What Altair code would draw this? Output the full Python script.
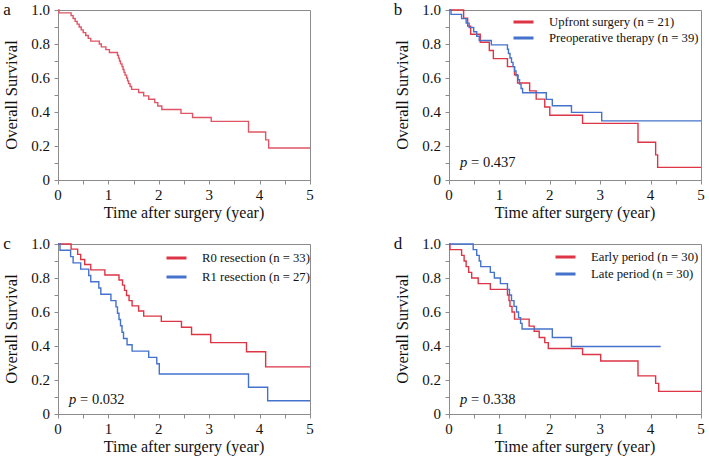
import altair as alt
import pandas as pd

FONT = "'Liberation Serif', 'Times New Roman', Times, serif"
RED = "#dd3545"
BLUE = "#4472cc"
GRAY = "#8c8c8c"
INK = "#111"

# ---- Kaplan-Meier step data (time in years, survival probability) ----
# a: all patients
a_time = [0, 0.02, 0.26, 0.30, 0.34, 0.38, 0.42, 0.46, 0.50, 0.55, 0.60, 0.65, 0.82, 0.86,
          0.95, 1.02, 1.18, 1.20, 1.22, 1.24, 1.27, 1.29, 1.31, 1.33, 1.36, 1.38, 1.40, 1.43,
          1.46, 1.60, 1.70, 1.80, 1.92, 1.98, 2.06, 2.44, 2.67, 3.04, 3.78, 4.12, 4.18, 5.00]
a_surv = [1.0, 0.983, 0.967, 0.950, 0.933, 0.917, 0.900, 0.883, 0.867, 0.850, 0.833, 0.817,
          0.800, 0.783, 0.767, 0.750, 0.733, 0.717, 0.700, 0.683, 0.667, 0.650, 0.633, 0.617,
          0.600, 0.583, 0.567, 0.550, 0.533, 0.515, 0.495, 0.475, 0.455, 0.435, 0.415, 0.392,
          0.368, 0.345, 0.282, 0.236, 0.188, 0.188]

# b: upfront surgery vs preoperative therapy
b_up_time = [0, 0.29, 0.37, 0.43, 0.62, 0.80, 0.88, 1.16, 1.30, 1.36, 1.60, 1.73, 1.90,
             2.00, 2.65, 3.75, 4.10, 4.14, 5.0]
b_up_surv = [1.0, 0.952, 0.905, 0.857, 0.810, 0.762, 0.714, 0.667, 0.619, 0.571, 0.524,
             0.476, 0.429, 0.381, 0.333, 0.222, 0.148, 0.074, 0.074]
b_pre_time = [0, 0.04, 0.25, 0.34, 0.40, 0.49, 0.55, 0.60, 0.84, 1.16, 1.18, 1.21, 1.24,
              1.27, 1.30, 1.33, 1.37, 1.40, 1.43, 1.46, 1.93, 2.05, 2.43, 3.03, 5.0]
b_pre_surv = [1.0, 0.974, 0.949, 0.923, 0.897, 0.872, 0.846, 0.821, 0.795, 0.769, 0.744,
              0.718, 0.692, 0.667, 0.641, 0.615, 0.590, 0.564, 0.538, 0.513, 0.474, 0.437,
              0.398, 0.348, 0.348]

# c: R0 vs R1 resection
c_r0_time = [0, 0.26, 0.39, 0.45, 0.53, 0.65, 0.93, 1.21, 1.28, 1.32, 1.36, 1.41, 1.47,
             1.60, 1.70, 2.05, 2.45, 2.65, 3.03, 3.74, 4.12, 5.0]
c_r0_surv = [1.0, 0.970, 0.939, 0.909, 0.879, 0.848, 0.818, 0.788, 0.758, 0.727, 0.697,
             0.667, 0.636, 0.606, 0.576, 0.545, 0.510, 0.468, 0.420, 0.366, 0.277, 0.277]
c_r1_time = [0, 0.04, 0.25, 0.30, 0.45, 0.61, 0.65, 0.81, 0.85, 1.05, 1.15, 1.18, 1.21,
             1.24, 1.27, 1.30, 1.37, 1.47, 1.80, 1.96, 2.01, 3.78, 4.16, 5.0]
c_r1_surv = [1.0, 0.963, 0.926, 0.889, 0.852, 0.815, 0.778, 0.741, 0.704, 0.667, 0.630,
             0.593, 0.556, 0.519, 0.481, 0.444, 0.407, 0.370, 0.333, 0.296, 0.235, 0.157,
             0.078, 0.078]

# d: early vs late period
d_early_time = [0, 0.02, 0.25, 0.30, 0.34, 0.39, 0.45, 0.58, 0.82, 1.16, 1.19, 1.21, 1.25,
                1.30, 1.59, 1.69, 1.79, 1.90, 1.97, 2.65, 3.01, 3.75, 4.10, 4.16, 5.0]
d_early_surv = [1.0, 0.967, 0.933, 0.900, 0.867, 0.833, 0.800, 0.767, 0.733, 0.700, 0.667,
                0.633, 0.600, 0.558, 0.517, 0.487, 0.450, 0.420, 0.385, 0.350, 0.312, 0.224,
                0.180, 0.133, 0.133]
d_late_time = [0, 0.48, 0.55, 0.60, 0.63, 0.82, 0.90, 1.02, 1.16, 1.20, 1.24, 1.29, 1.34,
               1.38, 1.42, 1.45, 2.05, 2.43, 4.20]
d_late_surv = [1.0, 0.967, 0.933, 0.900, 0.867, 0.833, 0.800, 0.767, 0.733, 0.700, 0.667,
               0.633, 0.600, 0.567, 0.533, 0.500, 0.450, 0.397, 0.397]

# ticks (every 0.5 year / 0.1 survival) and the labelled subset
x_ticks = [i * 0.5 for i in range(11)]
y_ticks = [round(i * 0.1, 1) for i in range(11)]
x_label_vals = [0, 1, 2, 3, 4, 5]
x_label_text = ["0", "1", "2", "3", "4", "5"]
y_label_vals = [0, 0.2, 0.4, 0.6, 0.8, 1.0]
y_label_text = ["0", "0.2", "0.4", "0.6", "0.8", "1.0"]

X_TITLE = "Time after surgery (year)"
Y_TITLE = "Overall Survival"

W, H = 252, 170

AXIS_STYLE = dict(domainColor=GRAY, tickColor=GRAY, tickSize=4, grid=False,
                  labels=False, title=None)


def panel(letter, series, p_value=None, p_y=0.09, legend_x=0, legend_y=0, row_pad=0):
    rows = []
    for label, times, surv, _ in series:
        for t, s in zip(times, surv):
            rows.append({"group": label, "time": t, "surv": s})
    df = pd.DataFrame(rows)
    labels = [s[0] for s in series]
    colors = [s[3] for s in series]

    if len(series) > 1:
        legend = alt.Legend(
            title=None, orient="none", legendX=legend_x, legendY=legend_y,
            symbolType="stroke", symbolStrokeWidth=3, symbolSize=400,
            labelFont=FONT, labelFontSize=12.7, labelColor=INK, labelOffset=14,
            labelLimit=300, padding=0, rowPadding=row_pad, clipHeight=16,
        )
    else:
        legend = None

    x = alt.X("time:Q", scale=alt.Scale(domain=[0, 5], nice=False),
              axis=alt.Axis(values=x_ticks, **AXIS_STYLE))
    y = alt.Y("surv:Q", scale=alt.Scale(domain=[0, 1], nice=False),
              axis=alt.Axis(values=y_ticks, **AXIS_STYLE))

    lines = alt.Chart(df).mark_line(interpolate="step-after", strokeWidth=1.4).encode(
        x=x, y=y,
        color=alt.Color("group:N", scale=alt.Scale(domain=labels, range=colors), legend=legend),
    )

    txt = dict(font=FONT, color=INK, baseline="middle")

    # tick labels, placed through the same scales
    xl = alt.Chart(pd.DataFrame({"time": x_label_vals, "surv": [0] * len(x_label_vals),
                                 "lab": x_label_text})).mark_text(
        fontSize=15, align="center", dy=15, **txt).encode(x=x, y=y, text="lab:N")
    yl = alt.Chart(pd.DataFrame({"time": [0] * len(y_label_vals), "surv": y_label_vals,
                                 "lab": y_label_text})).mark_text(
        fontSize=15, align="right", dx=-8, **txt).encode(x=x, y=y, text="lab:N")

    # axis titles and panel letter
    titles = pd.DataFrame({"xt": [X_TITLE], "yt": [Y_TITLE], "letter": [letter]})
    xt = alt.Chart(titles).mark_text(fontSize=16, align="center", **txt).encode(
        text="xt:N", x=alt.value(W / 2), y=alt.value(H + 33))
    yt = alt.Chart(titles).mark_text(fontSize=16.5, align="center", angle=270, **txt).encode(
        text="yt:N", x=alt.value(-46), y=alt.value(H / 2))
    tag = alt.Chart(titles).mark_text(fontSize=17, align="center", **txt).encode(
        text="letter:N", x=alt.value(-51), y=alt.value(0))

    layers = [lines, xl, yl, xt, yt, tag]
    if p_value is not None:
        ptab = pd.DataFrame({"time": [0.22], "surv": [p_y], "p": ["p"], "val": ["= " + p_value]})
        base = alt.Chart(ptab).encode(x=x, y=y)
        layers.append(base.mark_text(fontSize=14.5, fontStyle="italic", align="left",
                                     **txt).encode(text="p:N"))
        layers.append(base.mark_text(fontSize=14.5, dx=11, align="left",
                                     **txt).encode(text="val:N"))
    return alt.layer(*layers).properties(width=W, height=H)


pa = panel("a", [("All", a_time, a_surv, "#e05566")])
pb = panel("b", [("Upfront surgery (n = 21)", b_up_time, b_up_surv, RED),
                 ("Preoperative therapy (n = 39)", b_pre_time, b_pre_surv, BLUE)],
           p_value="0.437", p_y=0.10, legend_x=63, legend_y=4, row_pad=0)
pc = panel("c", [("R0 resection (n = 33)", c_r0_time, c_r0_surv, RED),
                 ("R1 resection (n = 27)", c_r1_time, c_r1_surv, BLUE)],
           p_value="0.032", p_y=0.085, legend_x=107, legend_y=6, row_pad=3)
pd_ = panel("d", [("Early period (n = 30)", d_early_time, d_early_surv, RED),
                  ("Late period (n = 30)", d_late_time, d_late_surv, BLUE)],
            p_value="0.338", p_y=0.085, legend_x=105, legend_y=5, row_pad=1)

chart = alt.concat(
    pa, pb, pc, pd_, columns=2, spacing={"row": 64, "column": 139}, bounds="flush",
    padding={"left": 2, "top": 0, "right": 0, "bottom": 0},
).resolve_scale(color="independent").resolve_legend(color="independent").configure_view(
    stroke=GRAY, strokeWidth=1
)

chart.save("out.html", embed_options={"renderer": "svg", "actions": False})
